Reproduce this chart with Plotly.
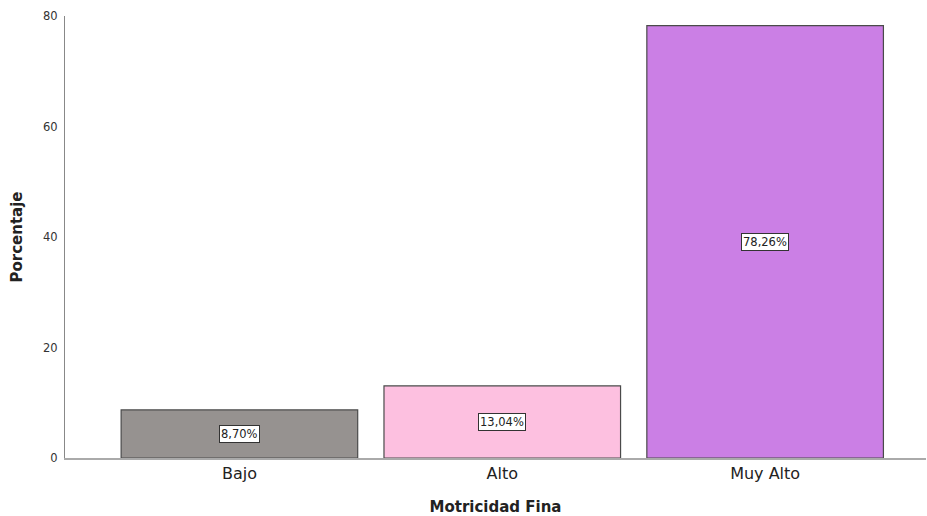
import plotly.graph_objects as go

categories = ["Bajo", "Alto", "Muy Alto"]
values = [8.70, 13.04, 78.26]
colors = ["#969290", "#FDC0E0", "#CB7FE5"]
y_ticks = [0, 20, 40, 60, 80]

fig = go.Figure()
fig.add_trace(go.Bar(
    x=list(range(len(categories))), y=values,
    marker=dict(color=colors, line=dict(color="#4a4a4a", width=1.2)),
    width=0.9, hoverinfo="skip",
))

for i, v in enumerate(values):
    fig.add_annotation(
        x=i, y=v / 2, xref="x", yref="y",
        text=f"{v:.2f}%".replace(".", ","),
        showarrow=False,
        font=dict(family="DejaVu Sans", size=11.5, color="#222"),
        bgcolor="white", bordercolor="#333", borderwidth=1, borderpad=1,
    )

fig.update_layout(
    width=927, height=516,
    margin=dict(l=65, r=1, t=16, b=58),
    plot_bgcolor="white", paper_bgcolor="white",
    showlegend=False,
    font=dict(family="DejaVu Sans", color="#222"),
)
fig.update_xaxes(
    range=[-0.6635, 2.612],
    tickmode="array", tickvals=list(range(len(categories))), ticktext=categories,
    tickfont=dict(size=16, family="DejaVu Sans", color="#222"),
    showgrid=False, zeroline=False,
    showline=True, linecolor="#aaaaaa", linewidth=1.5,
    ticks="", ticklen=0,
    title=dict(text="<b>Motricidad Fina</b>", font=dict(size=15, family="DejaVu Sans", color="#222"), standoff=22),
)
fig.update_yaxes(
    range=[0, 80],
    tickmode="array", tickvals=y_ticks,
    tickfont=dict(size=11.5, family="DejaVu Sans", color="#333"),
    showgrid=False, zeroline=False,
    showline=True, linecolor="#888888", linewidth=1,
    ticks="outside", ticklen=4, tickcolor="white",
    title=dict(text="<b>Porcentaje</b>", font=dict(size=15, family="DejaVu Sans", color="#222"), standoff=16),
)

fig.write_html("out.html")
